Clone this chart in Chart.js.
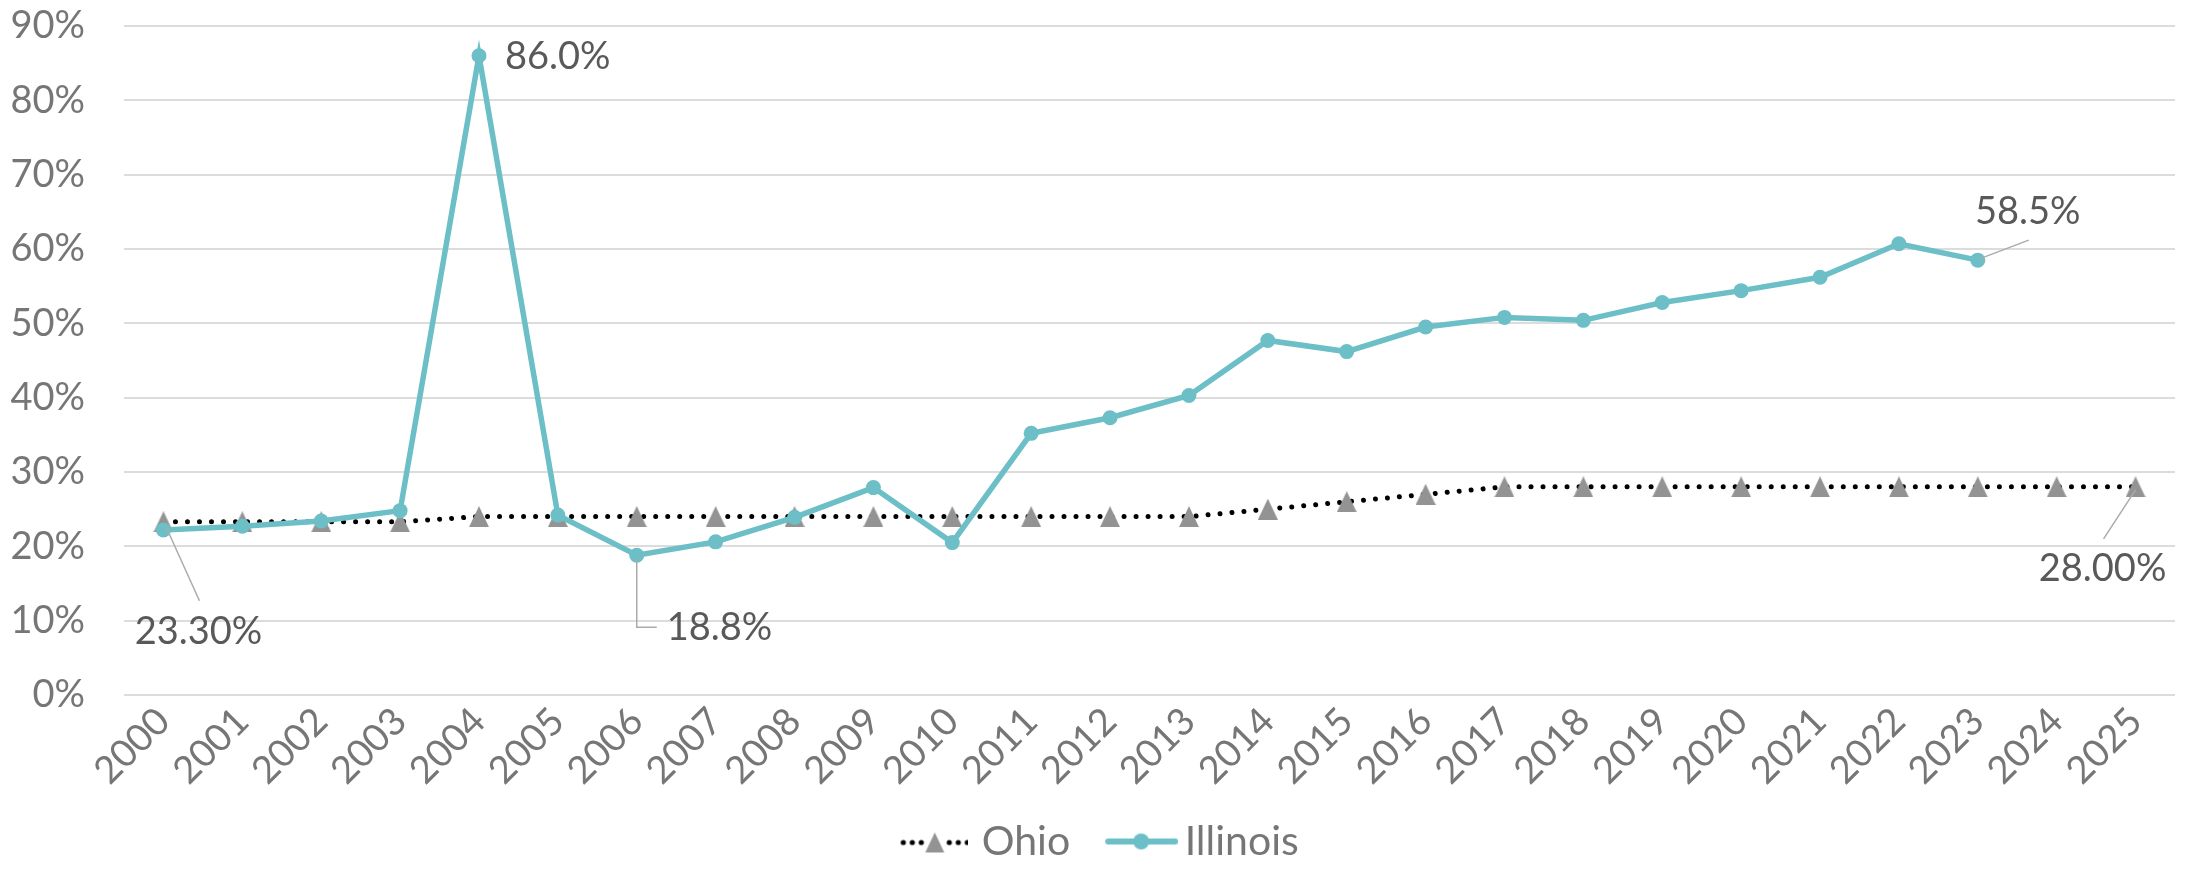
<!DOCTYPE html>
<html>
<head>
<meta charset="utf-8">
<script src="https://cdn.jsdelivr.net/npm/chart.js@4/dist/chart.umd.min.js"></script>
<style>
  html, body { margin: 0; padding: 0; background: #fff; }
  #wrap { width: 2190px; height: 872px; }
</style>
</head>
<body>
<div id="wrap"><canvas id="rateChart" width="2190" height="872"></canvas></div>
<script>
// years on the x axis
var years = ['2000', '2001', '2002', '2003', '2004', '2005', '2006', '2007', '2008', '2009',
    '2010', '2011', '2012', '2013', '2014', '2015', '2016', '2017', '2018', '2019',
    '2020', '2021', '2022', '2023', '2024', '2025'];

// values in percent
var ohio = [23.3, 23.3, 23.3, 23.3, 24.0, 24.0, 24.0, 24.0, 24.0, 24.0,
    24.0, 24.0, 24.0, 24.0, 25.0, 26.0, 27.0, 28.0, 28.0, 28.0,
    28.0, 28.0, 28.0, 28.0, 28.0, 28.0];
var illinois = [22.2, 22.7, 23.4, 24.8, 86.0, 24.2, 18.8, 20.6, 23.9, 27.9,
    20.5, 35.2, 37.3, 40.3, 47.7, 46.2, 49.5, 50.8, 50.4, 52.8,
    54.4, 56.2, 60.7, 58.5, null, null];

var yTicks = [0, 10, 20, 30, 40, 50, 60, 70, 80, 90];

var TEAL = '#6cbfc6';
var TRI_GRAY = '#939393';

// which points carry a value label (dataset, index, decimals)
var callouts = [
    { ds: 0, idx: 0, dec: 2 },
    { ds: 1, idx: 4, dec: 1 },
    { ds: 1, idx: 6, dec: 1 },
    { ds: 1, idx: 23, dec: 1 },
    { ds: 0, idx: 25, dec: 2 }
];
// where each label sits relative to its point, plus leader line pieces
var calloutStyle = [
    { tx: 35, ty: 110, align: 'center', line: [[3, 6], [36, 79]] },
    { tx: 26, ty: 1, align: 'left', line: null },
    { tx: 30, ty: 72, align: 'left', line: [[0, 3], [0, 72], [20, 72]] },
    { tx: 50, ty: -48, align: 'center', line: [[1, -1], [51, -20]] },
    { tx: -33, ty: 82, align: 'center', line: [[0, 3], [-32, 52]] }
];

function makeTriangle(w, h) {
    var c = document.createElement('canvas');
    c.width = w; c.height = h;
    var g = c.getContext('2d');
    g.fillStyle = TRI_GRAY;
    g.beginPath();
    g.moveTo(w / 2, 0);
    g.lineTo(w, h);
    g.lineTo(0, h);
    g.closePath();
    g.fill();
    return c;
}

// legend swatches: line + marker. The canvas is wider than what is drawn
// so the gaps around the text come out like the original.
function makeOhioSwatch() {
    var c = document.createElement('canvas');
    c.width = 98; c.height = 26;
    var g = c.getContext('2d');
    var off = 30;
    g.fillStyle = '#000';
    var xs = [3, 12, 21, 49, 58, 67];
    for (var i = 0; i < xs.length; i++) {
        g.beginPath();
        g.arc(off + xs[i], 14, 2.6, 0, Math.PI * 2);
        g.fill();
    }
    g.drawImage(makeTriangle(19, 20), off + 25, 4);
    return c;
}

function makeIllinoisSwatch() {
    var c = document.createElement('canvas');
    c.width = 112; c.height = 26;
    var g = c.getContext('2d');
    var off = 39;
    g.strokeStyle = TEAL;
    g.lineWidth = 6;
    g.lineCap = 'round';
    g.beginPath();
    g.moveTo(off + 3, 13);
    g.lineTo(off + 70, 13);
    g.stroke();
    g.fillStyle = TEAL;
    g.beginPath();
    g.arc(off + 36, 13, 8, 0, Math.PI * 2);
    g.fill();
    return c;
}

var calloutPlugin = {
    id: 'callouts',
    afterDatasetsDraw: function (chart) {
        var ctx = chart.ctx;
        ctx.save();
        for (var i = 0; i < callouts.length; i++) {
            var c = callouts[i], s = calloutStyle[i];
            var pt = chart.getDatasetMeta(c.ds).data[c.idx];
            var v = chart.data.datasets[c.ds].data[c.idx];
            if (s.line) {
                ctx.strokeStyle = '#ababab';
                ctx.lineWidth = 1.5;
                ctx.beginPath();
                ctx.moveTo(pt.x + s.line[0][0], pt.y + s.line[0][1]);
                for (var k = 1; k < s.line.length; k++) {
                    ctx.lineTo(pt.x + s.line[k][0], pt.y + s.line[k][1]);
                }
                ctx.stroke();
            }
            ctx.fillStyle = '#595959';
            ctx.font = '38px Lato';
            ctx.textAlign = s.align;
            ctx.textBaseline = 'middle';
            ctx.fillText(v.toFixed(c.dec) + '%', pt.x + s.tx, pt.y + s.ty);
        }
        ctx.restore();
    }
};

function draw() {
    Chart.defaults.font.family = 'Lato';
    Chart.defaults.color = '#767676';

    var tri = makeTriangle(20, 21);
    var swatches = [makeOhioSwatch(), makeIllinoisSwatch()];

    new Chart(document.getElementById('rateChart'), {
        type: 'line',
        data: {
            labels: years,
            datasets: [{
                label: 'Ohio',
                data: ohio,
                order: 1,
                borderColor: '#000',
                borderWidth: 5,
                borderDash: [0.01, 12],
                borderCapStyle: 'round',
                pointStyle: tri,
                pointRadius: 10,
                tension: 0
            }, {
                label: 'Illinois',
                data: illinois,
                order: 0,
                borderColor: TEAL,
                backgroundColor: TEAL,
                borderWidth: 5.5,
                pointRadius: 7.5,
                pointBorderWidth: 0,
                pointBackgroundColor: TEAL,
                tension: 0
            }]
        },
        options: {
            responsive: false,
            animation: false,
            devicePixelRatio: 1,
            layout: { padding: { top: 26, right: 14, left: 0, bottom: 0 } },
            plugins: {
                tooltip: { enabled: false },
                legend: {
                    position: 'bottom',
                    labels: {
                        usePointStyle: true,
                        pointStyleWidth: 84,
                        padding: 10,
                        font: { size: 41 },
                        color: '#767676',
                        sort: function (a, b) { return a.datasetIndex - b.datasetIndex; },
                        generateLabels: function (chart) {
                            var items = Chart.defaults.plugins.legend.labels.generateLabels(chart);
                            items.forEach(function (it) { it.pointStyle = swatches[it.datasetIndex]; });
                            return items;
                        }
                    }
                }
            },
            scales: {
                x: {
                    offset: true,
                    afterFit: function (scale) { scale.height = 116; },
                    grid: { display: false, drawTicks: false },
                    border: { display: false },
                    ticks: {
                        autoSkip: false,
                        minRotation: 45,
                        maxRotation: 45,
                        padding: 4,
                        font: { size: 38 }
                    }
                },
                y: {
                    min: 0,
                    max: 90,
                    afterFit: function (scale) { scale.width = 124; },
                    afterBuildTicks: function (scale) {
                        scale.ticks = yTicks.map(function (v) { return { value: v }; });
                    },
                    grid: { color: '#dcdcdc', lineWidth: 2, drawTicks: true, tickLength: 39, tickColor: 'rgba(0,0,0,0)' },
                    border: { display: false },
                    ticks: {
                        padding: 0,
                        font: { size: 38 },
                        callback: function (v) { return v + '%'; }
                    }
                }
            }
        },
        plugins: [calloutPlugin]
    });
}

if (document.fonts && document.fonts.load) {
    document.fonts.load('38px Lato').then(draw, draw);
} else {
    draw();
}
</script>
</body>
</html>
